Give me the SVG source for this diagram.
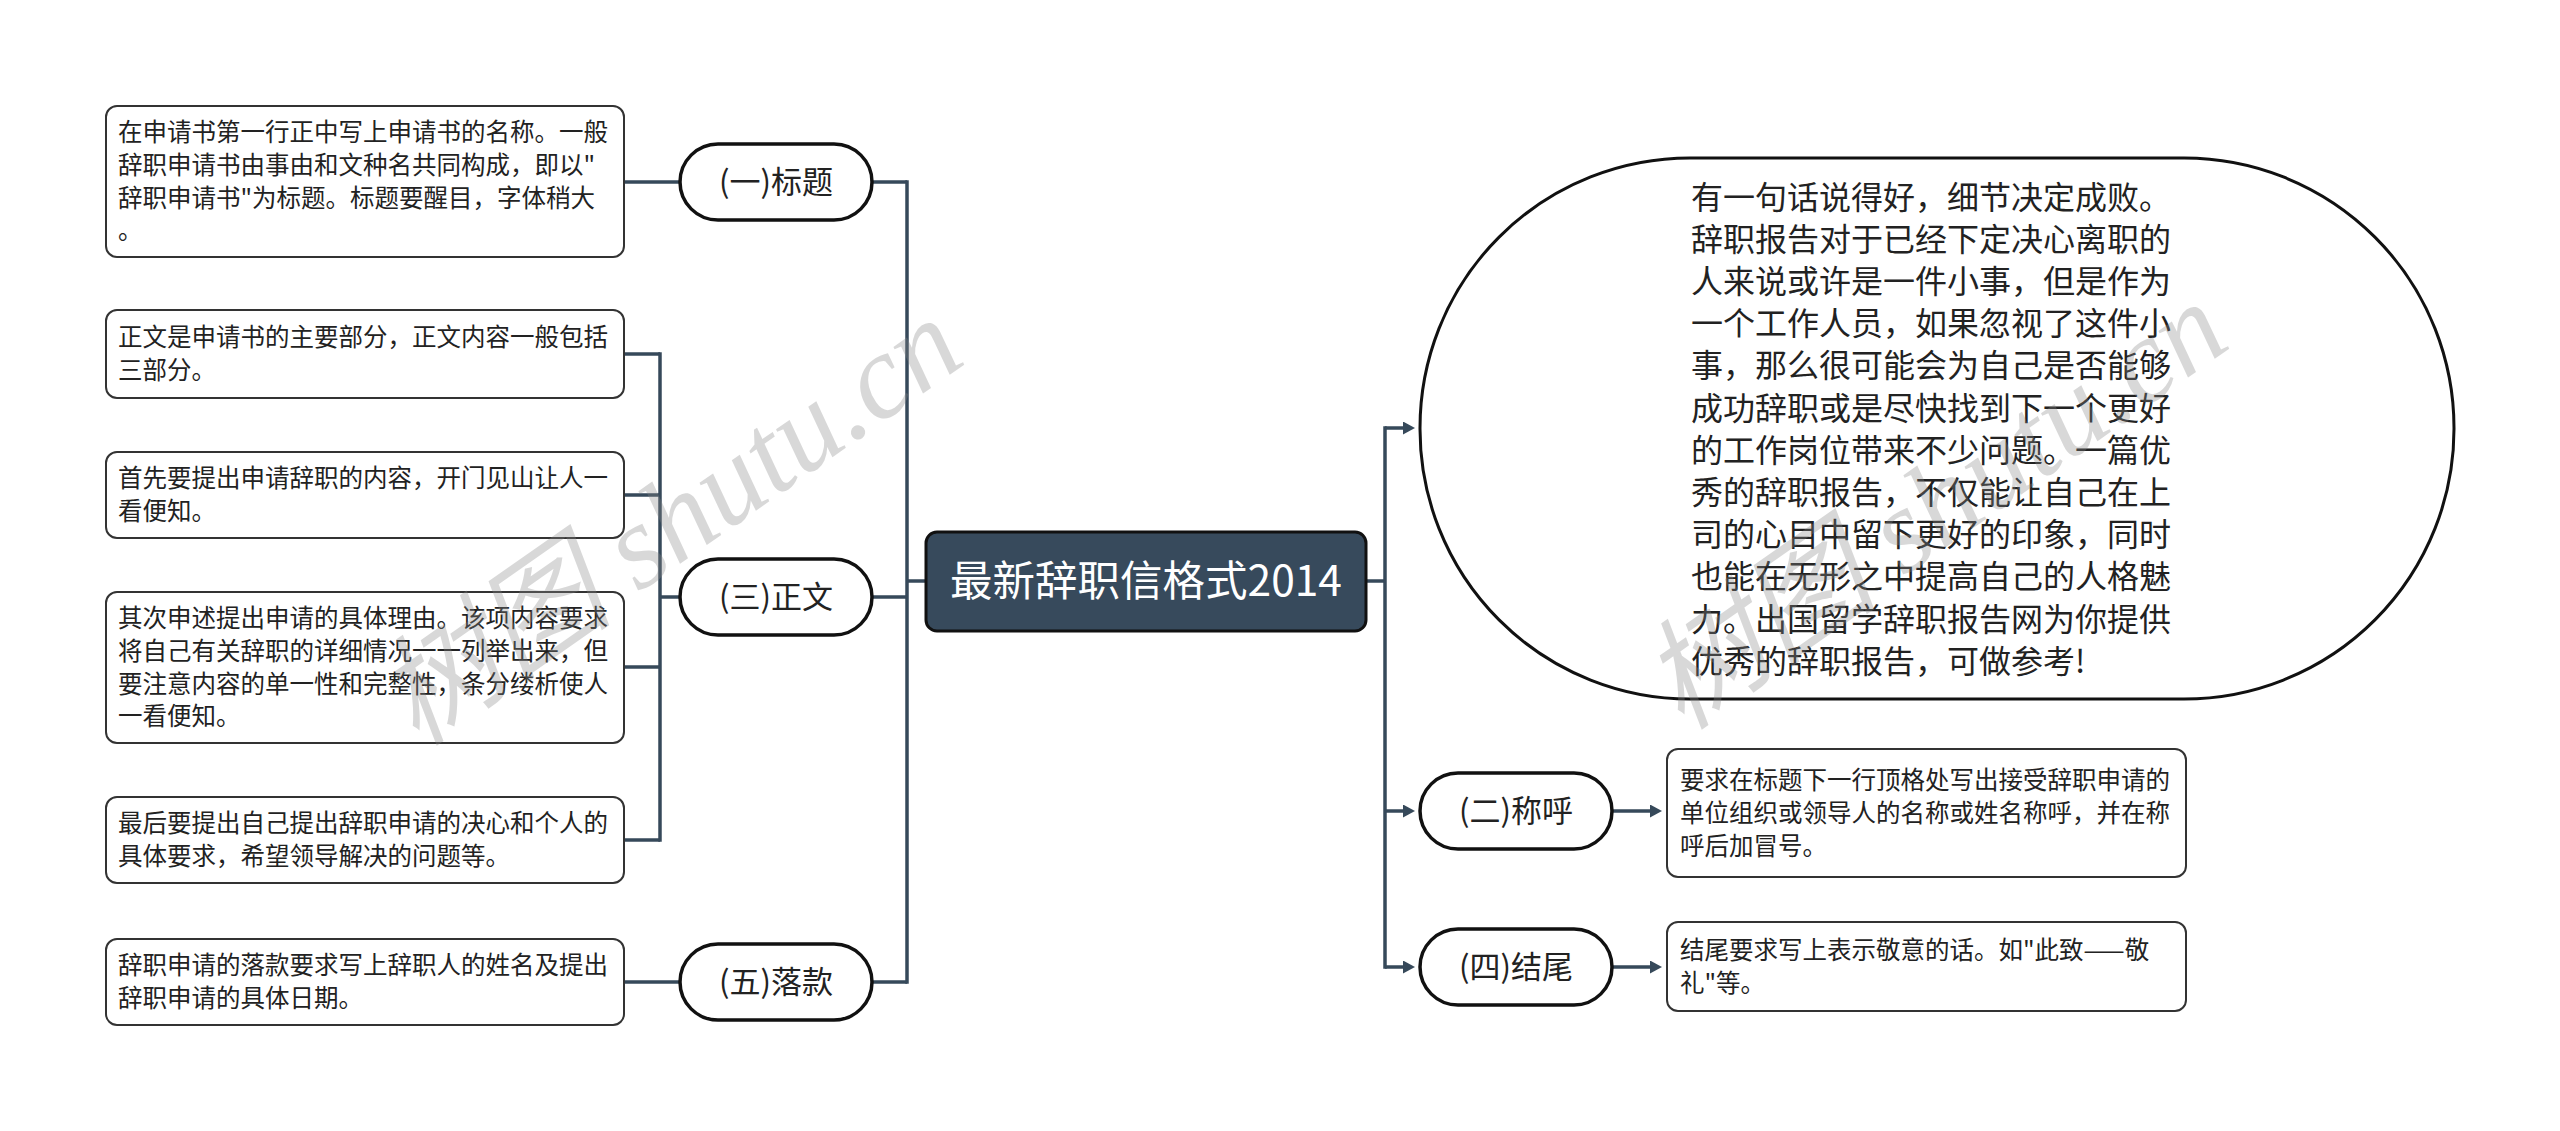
<svg xmlns="http://www.w3.org/2000/svg" width="2560" height="1131" viewBox="0 0 2560 1131">
<defs>
<style>
.conn{fill:none;stroke:#36495a;stroke-width:3.5;}
.trunk{fill:none;stroke:#36495a;stroke-width:3.5;stroke-linecap:square;}
.pill{fill:#fff;stroke:#111;stroke-width:3.5;}
.box{fill:#fff;stroke:#333;stroke-width:2;}
.pt{font-family:"Noto Sans CJK SC","Noto Sans",sans-serif;font-size:31px;fill:#222;text-anchor:middle;}
.bt{font-family:"Noto Sans CJK SC","Noto Sans",sans-serif;font-size:24.5px;fill:#222;}
.ot{font-family:"Noto Sans CJK SC","Noto Sans",sans-serif;font-size:32px;fill:#222;}
.wm{font-family:"Liberation Serif","Noto Sans CJK SC",serif;font-size:120px;fill:#888;opacity:0.32;font-style:italic;}
</style>
<marker id="ah" markerUnits="userSpaceOnUse" markerWidth="15" markerHeight="15" refX="0" refY="6.5" orient="auto">
<path d="M0,0 L12,6.5 L0,13 z" fill="#36495a"/>
</marker>
</defs>
<rect width="2560" height="1131" fill="#fff"/>

<g id="connectors">
<path class="trunk" d="M907,182 V982"/>
<path class="conn" d="M926,581 H907"/>
<path class="conn" d="M907,182 H864" marker-end="url(#ah)"/>
<path class="conn" d="M907,597 H864" marker-end="url(#ah)"/>
<path class="conn" d="M907,982 H864" marker-end="url(#ah)"/>
<path class="conn" d="M680,182 H617" marker-end="url(#ah)"/>
<path class="conn" d="M680,982 H617" marker-end="url(#ah)"/>
<path class="conn" d="M680,597 H660"/>
<path class="trunk" d="M660,354 V840"/>
<path class="conn" d="M660,354 H617" marker-end="url(#ah)"/>
<path class="conn" d="M660,495 H617" marker-end="url(#ah)"/>
<path class="conn" d="M660,667 H617" marker-end="url(#ah)"/>
<path class="conn" d="M660,840 H617" marker-end="url(#ah)"/>
<path class="conn" d="M1366,581 H1385"/>
<path class="trunk" d="M1385,428 V967"/>
<path class="conn" d="M1385,428 H1403" marker-end="url(#ah)"/>
<path class="conn" d="M1385,811 H1403" marker-end="url(#ah)"/>
<path class="conn" d="M1385,967 H1403" marker-end="url(#ah)"/>
<path class="conn" d="M1612,811 H1650" marker-end="url(#ah)"/>
<path class="conn" d="M1612,967 H1650" marker-end="url(#ah)"/>
</g>

<g id="root">
<rect x="926" y="532" width="440" height="99" rx="11" fill="#374a5c" stroke="#111" stroke-width="3"/>
<text x="1146" y="596" font-family="'Noto Sans CJK SC','Noto Sans',sans-serif" font-size="42.5" fill="#fff" text-anchor="middle">最新辞职信格式2014</text>
</g>

<g id="n-biaoti">
<rect class="pill" x="680" y="144" width="192" height="76" rx="38"/>
<text class="pt" x="776" y="193">(一)标题</text>
</g>
<g id="n-biaoti-d">
<rect class="box" x="106" y="106" width="518" height="151" rx="11"/>
<text class="bt" x="118" y="141.3"><tspan x="118">在申请书第一行正中写上申请书的名称。一般</tspan><tspan x="118" dy="32.7">辞职申请书由事由和文种名共同构成，即以"</tspan><tspan x="118" dy="32.7">辞职申请书"为标题。标题要醒目，字体稍大</tspan><tspan x="118" dy="32.7">。</tspan></text>
</g>

<g id="n-zhengwen">
<rect class="pill" x="680" y="559" width="192" height="76" rx="38"/>
<text class="pt" x="776" y="608">(三)正文</text>
</g>
<g id="n-zhengwen-1">
<rect class="box" x="106" y="310" width="518" height="88" rx="11"/>
<text class="bt" x="118" y="346.4"><tspan x="118">正文是申请书的主要部分，正文内容一般包括</tspan><tspan x="118" dy="32.7">三部分。</tspan></text>
</g>
<g id="n-zhengwen-2">
<rect class="box" x="106" y="452" width="518" height="86" rx="11"/>
<text class="bt" x="118" y="487.4"><tspan x="118">首先要提出申请辞职的内容，开门见山让人一</tspan><tspan x="118" dy="32.7">看便知。</tspan></text>
</g>
<g id="n-zhengwen-3">
<rect class="box" x="106" y="592" width="518" height="151" rx="11"/>
<text class="bt" x="118" y="627.2"><tspan x="118">其次申述提出申请的具体理由。该项内容要求</tspan><tspan x="118" dy="32.7">将自己有关辞职的详细情况一一列举出来，但</tspan><tspan x="118" dy="32.7">要注意内容的单一性和完整性，条分缕析使人</tspan><tspan x="118" dy="32.7">一看便知。</tspan></text>
</g>
<g id="n-zhengwen-4">
<rect class="box" x="106" y="797" width="518" height="86" rx="11"/>
<text class="bt" x="118" y="832.4"><tspan x="118">最后要提出自己提出辞职申请的决心和个人的</tspan><tspan x="118" dy="32.7">具体要求，希望领导解决的问题等。</tspan></text>
</g>

<g id="n-luokuan">
<rect class="pill" x="680" y="944" width="192" height="76" rx="38"/>
<text class="pt" x="776" y="993">(五)落款</text>
</g>
<g id="n-luokuan-d">
<rect class="box" x="106" y="939" width="518" height="86" rx="11"/>
<text class="bt" x="118" y="974.4"><tspan x="118">辞职申请的落款要求写上辞职人的姓名及提出</tspan><tspan x="118" dy="32.7">辞职申请的具体日期。</tspan></text>
</g>

<g id="n-intro">
<rect x="1420" y="158" width="1034" height="541" rx="270" ry="270" fill="#fff" stroke="#111" stroke-width="3"/>
<text class="ot" x="1691" y="208.5"><tspan x="1691">有一句话说得好，细节决定成败。</tspan><tspan x="1691" dy="42.2">辞职报告对于已经下定决心离职的</tspan><tspan x="1691" dy="42.2">人来说或许是一件小事，但是作为</tspan><tspan x="1691" dy="42.2">一个工作人员，如果忽视了这件小</tspan><tspan x="1691" dy="42.2">事，那么很可能会为自己是否能够</tspan><tspan x="1691" dy="42.2">成功辞职或是尽快找到下一个更好</tspan><tspan x="1691" dy="42.2">的工作岗位带来不少问题。一篇优</tspan><tspan x="1691" dy="42.2">秀的辞职报告，不仅能让自己在上</tspan><tspan x="1691" dy="42.2">司的心目中留下更好的印象，同时</tspan><tspan x="1691" dy="42.2">也能在无形之中提高自己的人格魅</tspan><tspan x="1691" dy="42.2">力。出国留学辞职报告网为你提供</tspan><tspan x="1691" dy="42.2">优秀的辞职报告，可做参考!</tspan></text>
</g>

<g id="n-chenghu">
<rect class="pill" x="1420" y="773" width="192" height="76" rx="38"/>
<text class="pt" x="1516" y="822">(二)称呼</text>
</g>
<g id="n-chenghu-d">
<rect class="box" x="1667" y="749" width="519" height="128" rx="11"/>
<text class="bt" x="1680" y="789.1"><tspan x="1680">要求在标题下一行顶格处写出接受辞职申请的</tspan><tspan x="1680" dy="32.7">单位组织或领导人的名称或姓名称呼，并在称</tspan><tspan x="1680" dy="32.7">呼后加冒号。</tspan></text>
</g>

<g id="n-jiewei">
<rect class="pill" x="1420" y="929" width="192" height="76" rx="38"/>
<text class="pt" x="1516" y="978">(四)结尾</text>
</g>
<g id="n-jiewei-d">
<rect class="box" x="1667" y="922" width="519" height="89" rx="11"/>
<text class="bt" x="1680" y="958.9"><tspan x="1680">结尾要求写上表示敬意的话。如"此致——敬</tspan><tspan x="1680" dy="32.7">礼"等。</tspan></text>
</g>

<g id="watermark">
<text class="wm" transform="translate(670,522) rotate(-35)" text-anchor="middle" y="40">树图 shutu.cn</text>
<text class="wm" transform="translate(1935,506) rotate(-35)" text-anchor="middle" y="40">树图 shutu.cn</text>
</g>
</svg>
